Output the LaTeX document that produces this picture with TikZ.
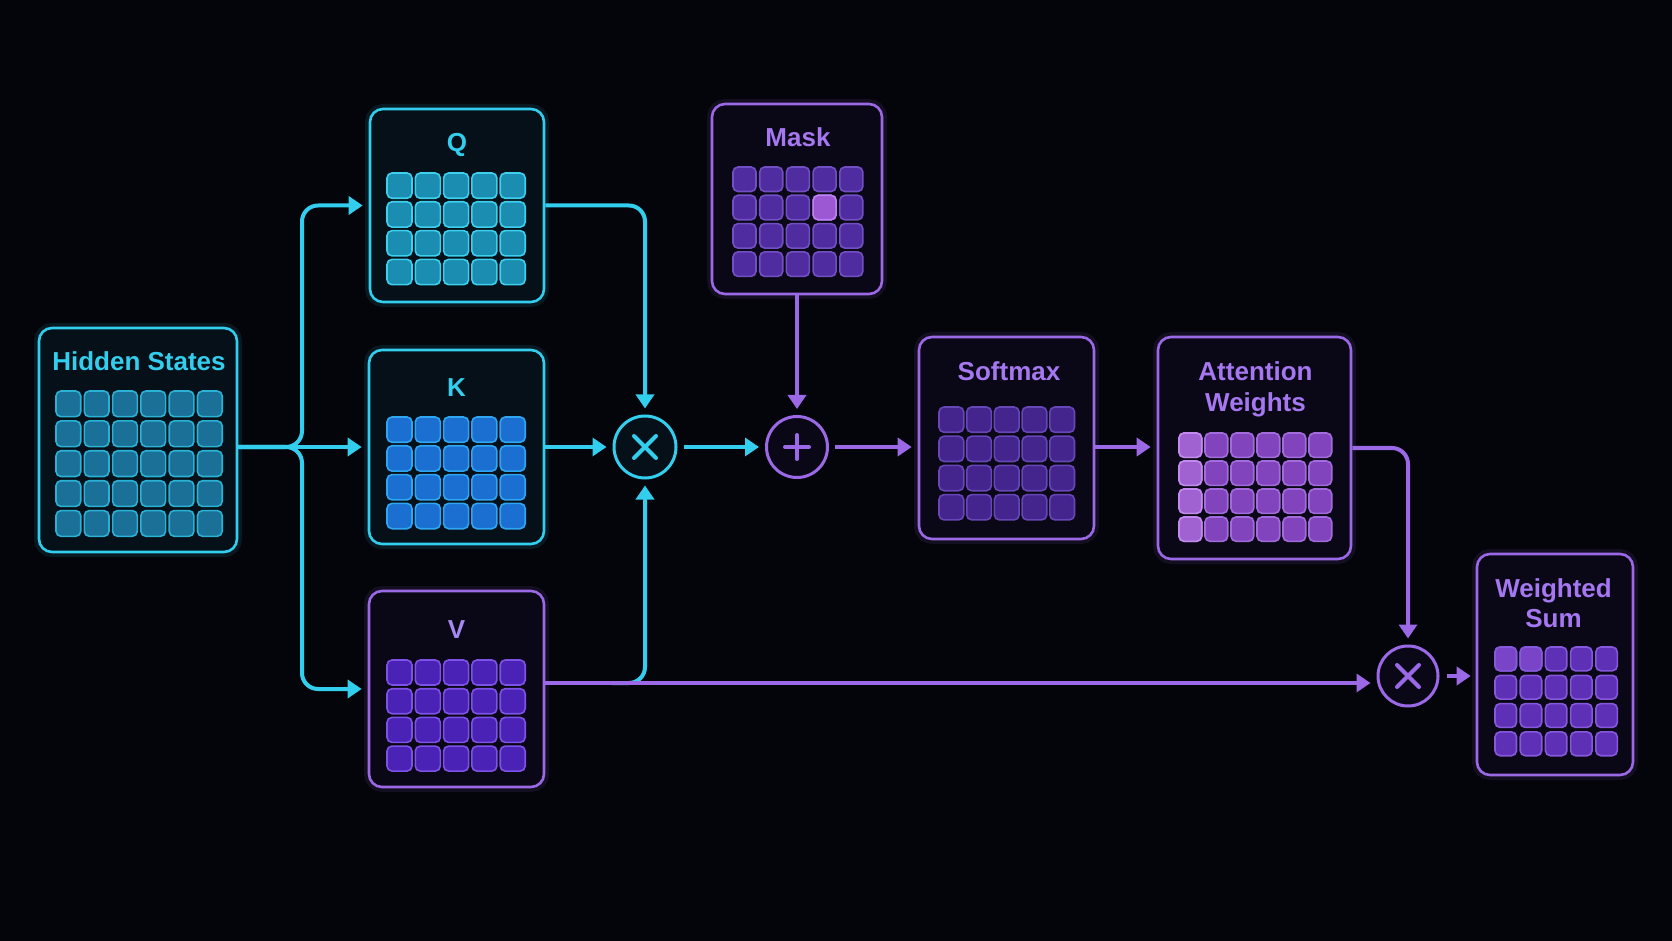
\documentclass[tikz,border=0pt]{standalone}
\usepackage{fontspec}
\setmainfont{Liberation Sans}
\usetikzlibrary{arrows.meta}
\definecolor{bg}{HTML}{04050B}
\definecolor{cyn}{HTML}{33CEEE}
\definecolor{pur}{HTML}{9B68E6}
\definecolor{purtxt}{HTML}{A577F0}
\definecolor{vtxt}{HTML}{A688F2}
\definecolor{cfill}{HTML}{061019}
\definecolor{pfill}{HTML}{0A0817}
\definecolor{hsF}{HTML}{1A7096}\definecolor{hsD}{HTML}{2AB2D6}
\definecolor{qF}{HTML}{1B8DB0}\definecolor{qD}{HTML}{3CD0EE}
\definecolor{kF}{HTML}{1A6FD0}\definecolor{kD}{HTML}{2FA6F2}
\definecolor{vF}{HTML}{4A22B5}\definecolor{vD}{HTML}{7E52E6}
\definecolor{mF}{HTML}{4F2C9F}\definecolor{mD}{HTML}{7250C4}
\definecolor{mhF}{HTML}{9B58D2}\definecolor{mhD}{HTML}{BE82F0}
\definecolor{sF}{HTML}{44258E}\definecolor{sD}{HTML}{6746B6}
\definecolor{aF}{HTML}{8244BC}\definecolor{aD}{HTML}{A36CDC}
\definecolor{alF}{HTML}{A062D0}\definecolor{alD}{HTML}{C28AEC}
\definecolor{wF}{HTML}{5E30B6}\definecolor{wD}{HTML}{8658DC}
\definecolor{wlF}{HTML}{7A44C8}
\newcommand\cellgrid[9]{%
  \foreach \ci in {1,...,#3}{\foreach \cj in {1,...,#4}{%
    \path[#9] ({#1+(\ci-1)*#5},{#2+(\cj-1)*#6}) rectangle ++(#7,#8);}}}
\tikzset{
  panel/.style n args={4}{draw=#1, fill=#2, line width=1.3pt, rounded corners=6.5pt,
     minimum width=#3*0.5pt, minimum height=#4*0.5pt, inner sep=0pt,
     preaction={draw=#1, line width=5pt, draw opacity=0.1}},
  cell/.style 2 args={fill=#1, draw=#2, line width=0.8pt, rounded corners=2.5pt},
  ttl/.style={font=\bfseries\fontsize{13pt}{15pt}\selectfont, text=#1, inner sep=0pt, anchor=base},
  opnode/.style n args={3}{circle, draw=#1, fill=#2, line width=1.5pt, minimum size=#3*0.5pt, inner sep=0pt},
  tip/.style={-{Triangle[length=7pt,width=9pt]}},
  cyl/.style={draw=cyn, line width=2pt, tip, shorten >=3pt},
  pul/.style={draw=pur, line width=2pt, tip, shorten >=3pt},
  sym/.style={line width=2pt, line cap=round}
}
\begin{document}
\begin{tikzpicture}[x=0.5pt, y=-0.5pt]
\useasboundingbox (0,0) rectangle (1672,941);
\fill[bg] (0,0) rectangle (1672,941);

% panels
\node[panel={cyn}{cfill}{198}{224}] (hs) at (138,440) {};
\node[panel={cyn}{cfill}{174}{193}] (q) at (457,205.5) {};
\node[panel={cyn}{cfill}{175}{194}] (k) at (456.5,447) {};
\node[panel={pur}{pfill}{175}{196}] (v) at (456.5,689) {};
\node[panel={pur}{pfill}{170}{190}] (mask) at (797,199) {};
\node[panel={pur}{pfill}{175}{202}] (sm) at (1006.5,438) {};
\node[panel={pur}{pfill}{193}{222}] (aw) at (1254.5,448) {};
\node[panel={pur}{pfill}{156}{221}] (ws) at (1555,664.5) {};

% titles
\node[ttl=cyn] (hst) at (139,371) {Hidden States};
\node[ttl=cyn] (qt) at (457,152) {Q};
\node[ttl=cyn] (kt) at (456.5,397) {K};
\node[ttl=vtxt] (vt) at (456.5,638) {V};
\node[ttl=purtxt] (maskt) at (798,147) {Mask};
\node[ttl=purtxt] (smt) at (1009,381) {Softmax};
\node[ttl=purtxt] (awt1) at (1255.5,381) {Attention};
\node[ttl=purtxt] (awt2) at (1255.5,412) {Weights};
\node[ttl=purtxt] (wst1) at (1553.5,597) {Weighted};
\node[ttl=purtxt] (wst2) at (1553.5,627) {Sum};

% grids
\cellgrid{56}{391}{6}{5}{28.3}{29.9}{24.7}{25.7}{cell={hsF}{hsD}}
\cellgrid{387}{173}{5}{4}{28.3}{28.8}{25}{25.3}{cell={qF}{qD}}
\cellgrid{387}{417}{5}{4}{28.3}{28.8}{25}{25.3}{cell={kF}{kD}}
\cellgrid{387}{660}{5}{4}{28.3}{28.7}{25}{25}{cell={vF}{vD}}
\cellgrid{733}{167}{5}{4}{26.7}{28.3}{23}{24.5}{cell={mF}{mD}}
\path[cell={mhF}{mhD}] ({733+3*26.7},{167+28.3}) rectangle ++(23,24.5);
\cellgrid{939}{407}{5}{4}{27.7}{29.2}{24.7}{25.3}{cell={sF}{sD}}
\cellgrid{1179}{433}{6}{4}{26}{28}{22.7}{24.3}{cell={aF}{aD}}
\cellgrid{1179}{433}{1}{4}{26}{28}{22.7}{24.3}{cell={alF}{alD}}
\cellgrid{1495}{647}{5}{4}{25.2}{28.3}{21.5}{23.8}{cell={wF}{wD}}
\cellgrid{1495}{647}{2}{1}{25.2}{28.3}{21.5}{23.8}{cell={wlF}{wD}}

% operators
\node[opnode={cyn}{cfill}{62}] (m1) at (645,447) {};
\node[opnode={pur}{pfill}{61}] (add) at (797,447) {};
\node[opnode={pur}{pfill}{60}] (m2) at (1408,676) {};
\draw[sym, cyn] ([shift={(-11,-11)}]m1.center) -- ([shift={(11,11)}]m1.center);
\draw[sym, cyn] ([shift={(-11,11)}]m1.center) -- ([shift={(11,-11)}]m1.center);
\draw[sym, pur] ([shift={(-12,0)}]add.center) -- ([shift={(12,0)}]add.center);
\draw[sym, pur] ([shift={(0,-12)}]add.center) -- ([shift={(0,12)}]add.center);
\draw[sym, pur] ([shift={(-11,-11)}]m2.center) -- ([shift={(11,11)}]m2.center);
\draw[sym, pur] ([shift={(-11,11)}]m2.center) -- ([shift={(11,-11)}]m2.center);

% connectors
\coordinate (br) at (302,447);
\coordinate (vout) at (544,683);
\coordinate (vj) at (612,683);
\draw[cyl] (hs.east |- br) -- (k.west);
\draw[cyl, rounded corners=8pt] (hs.east |- br) -- (br) |- (q.west);
\draw[cyl, rounded corners=8pt] (hs.east |- br) -- (br) |- (v.west);
\draw[cyl, rounded corners=8pt] (q.east) -| (m1.north);
\draw[cyl] (k.east) -- (m1.west);
\draw[cyl, rounded corners=8pt] (vj) -| (m1.south);
\draw[pul] (vout) -- (vout -| m2.west);
\draw[cyl, shorten <=3pt] (m1.east) -- (add.west);
\draw[pul] (add.north |- mask.south) -- (add.north);
\draw[pul, shorten <=3pt] (add.east) -- (add.east -| sm.west);
\draw[pul] (sm.east |- m1) -- (aw.west |- m1);
\draw[pul, rounded corners=8pt] (aw.east) -| (m2.north);
\draw[pul, shorten <=3.5pt, shorten >=2.5pt] (m2.east) -- (m2.east -| ws.west);
\end{tikzpicture}
\end{document}
